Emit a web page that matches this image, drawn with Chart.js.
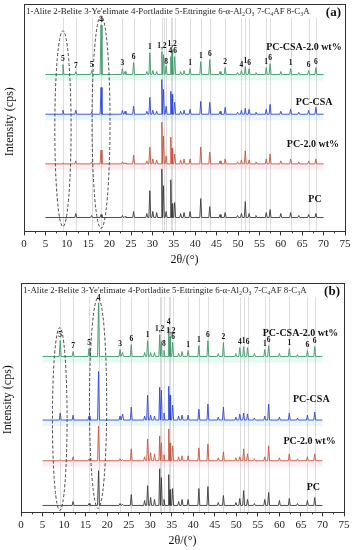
<!DOCTYPE html>
<html>
<head>
<meta charset="utf-8">
<script src="https://cdn.jsdelivr.net/npm/chart.js@4.4.1/dist/chart.umd.min.js"></script>
<style>
  html, body { margin: 0; padding: 0; background: #fff; }
  .panel { width: 354px; height: 275px; }
  canvas { display: block; }
</style>
</head>
<body>
<div class="panel"><canvas id="chartA" width="354" height="275"></canvas></div>
<div class="panel"><canvas id="chartB" width="354" height="275"></canvas></div>
<script>
// peak positions (2theta, deg) shared by all patterns
const peakPos = [9.1, 12.1, 15.8, 18.0, 23.0, 23.6, 25.6, 28.7, 29.4, 30.1, 31.0, 32.2, 32.6, 33.2, 34.3, 34.6, 35.2, 36.6, 37.4, 38.8,
                 41.3, 43.4, 45.8, 47.0, 49.9, 50.8, 51.7, 52.6, 54.2, 56.6, 57.5, 60.0, 62.3, 64.2, 66.5, 68.2];

// panel (a) peak intensities
const aCsa20 = [10, 3, 4, 50, 6, 3, 12, 3, 22, 4, 3, 23, 20, 9, 18, 25, 18, 3, 4, 6, 13, 15, 3, 7, 2, 4, 8, 6, 2, 7, 11, 3, 6, 2, 4, 7];
const aCsa   = [4, 4, 2, 27, 4, 3, 8, 3, 17, 4, 3, 35, 25, 8, 23, 20, 12, 3, 4, 5, 13, 12, 3, 7, 2, 4, 6, 5, 2, 5, 10, 3, 5, 2, 4, 7];
const aPc20  = [1, 3, 2, 14, 2, 1, 9, 3, 17, 5, 4, 42, 28, 8, 27, 16, 10, 4, 5, 5, 17, 12, 3, 5, 2, 4, 13, 4, 2, 5, 10, 3, 5, 2, 3, 5];
const aPc    = [0, 4, 2, 3, 2, 1, 6, 4, 27, 6, 5, 49, 32, 6, 38, 14, 15, 4, 5, 6, 19, 11, 3, 5, 2, 4, 16, 4, 2, 5, 8, 4, 5, 2, 3, 4];

// panel (b) peak intensities
const bCsa20 = [16, 5, 8, 54, 7, 4, 12, 4, 16, 4, 4, 22, 15, 6, 29, 20, 14, 3, 5, 6, 11, 16, 3, 14, 3, 9, 10, 9, 3, 7, 11, 3, 8, 2, 6, 10];
const bCsa   = [7, 5, 4, 49, 4, 6, 13, 4, 25, 5, 4, 33, 30, 7, 34, 25, 15, 4, 5, 5, 11, 16, 3, 13, 3, 6, 7, 6, 2, 4, 16, 3, 7, 2, 5, 8];
const bPc20  = [1, 4, 2, 35, 2, 1, 12, 4, 22, 8, 7, 25, 18, 6, 32, 18, 15, 4, 5, 5, 13, 17, 3, 9, 3, 4, 12, 7, 2, 4, 15, 3, 7, 2, 4, 7];
const bPc    = [0, 4, 2, 35, 2, 1, 11, 5, 20, 8, 6, 37, 28, 6, 31, 16, 17, 4, 6, 6, 17, 19, 3, 10, 3, 7, 15, 6, 2, 6, 13, 5, 7, 2, 5, 8];

const seriesNames = ['PC-CSA-2.0 wt%', 'PC-CSA', 'PC-2.0 wt%', 'PC'];
const xTickValues = [0, 5, 10, 15, 20, 25, 30, 35, 40, 45, 50, 55, 60, 65, 70, 75];
const refLines = [9.1, 12.1, 15.8, 18.0, 23.0, 25.6, 29.4, 32.2, 32.6, 33.2, 34.3, 34.6, 35.2, 38.8, 41.3, 43.4,
                  47.0, 50.8, 51.7, 52.6, 56.6, 57.5, 62.3, 66.5, 68.2];
const phaseKey = "1-Alite 2-Belite 3-Ye'elimate 4-Portladite 5-Ettringite 6-\u03b1-Al\u2082O\u2083 7-C\u2084AF 8-C\u2083A";

// phase numbers over the top pattern
const peakLabelsA = [[9.1, '5'], [12.1, '7'], [15.8, '5'], [18.0, '4'], [23.0, '3'], [25.6, '6'], [29.4, '1'], [32.2, '1,2'],
                     [33.2, '8'], [34.2, '4'], [34.6, '1,2'], [35.3, '6'], [38.8, '1'], [41.3, '1'], [43.4, '6'], [47.0, '2'],
                     [50.8, '4'], [51.7, '1'], [52.6, '6'], [56.6, '1'], [57.5, '6'], [62.3, '1'], [66.5, '6'], [68.2, '6']];
const peakLabelsB = [[9.1, '5'], [12.1, '7'], [15.8, '5'], [18.0, '4'], [23.0, '3'], [25.6, '6'], [29.4, '1'], [32.2, '1,2'],
                     [33.2, '8'], [34.3, '4'], [34.8, '1,2'], [35.3, '6'], [38.8, '1'], [41.3, '1'], [43.4, '6'], [47.0, '2'],
                     [50.8, '4'], [51.7, '1'], [52.6, '6'], [56.6, '1'], [57.5, '6'], [62.3, '1'], [66.5, '6'], [68.2, '6']];

const SERIF = "'Liberation Serif', 'DejaVu Serif', serif";
const colors = ['#3f9a6c', '#2f47d6', '#c4573f', '#3a3a3a'];
const bands  = ['rgba(120,220,170,0.16)', 'rgba(120,200,255,0.16)', 'rgba(255,150,170,0.16)', 'rgba(160,160,160,0.06)'];

function trace(heights, base) {
  const pts = [{ x: 5, y: base }];
  peakPos.forEach((p, i) => {
    const prev = i > 0 ? p - peakPos[i - 1] : 1;
    const next = i < peakPos.length - 1 ? peakPos[i + 1] - p : 1;
    const w = Math.min(0.22, 0.45 * prev, 0.45 * next);
    pts.push({ x: p - w, y: base }, { x: p, y: base + heights[i] }, { x: p + w, y: base });
  });
  pts.push({ x: 70, y: base });
  return pts;
}

function topAt(heights, deg) {
  let best = 0;
  peakPos.forEach((p, i) => { if (Math.abs(p - deg) <= 0.2) best = Math.max(best, heights[i]); });
  return best;
}

const decor = {
  id: 'decor',
  beforeDatasetsDraw(chart, args, o) {
    const { ctx, chartArea: a, scales: { x } } = chart;
    ctx.save();
    ctx.strokeStyle = '#d4d4d4';
    ctx.lineWidth = 0.8;
    refLines.forEach(v => {
      const px = Math.round(x.getPixelForValue(v)) + 0.5;
      ctx.beginPath(); ctx.moveTo(px, a.top + 14); ctx.lineTo(px, a.bottom); ctx.stroke();
    });
    ctx.restore();
  },
  afterDatasetsDraw(chart, args, o) {
    const { ctx, chartArea: a, scales: { x, y } } = chart;
    ctx.save();
    // dashed loops round the ettringite and portlandite peaks
    ctx.strokeStyle = '#333';
    ctx.lineWidth = 0.9;
    ctx.setLineDash([3, 2]);
    o.loops.forEach(l => {
      const cx = x.getPixelForValue(l.c), rx = x.getPixelForValue(l.c + l.hw) - cx;
      const t = y.getPixelForValue(l.top), b = y.getPixelForValue(l.bottom);
      ctx.beginPath(); ctx.ellipse(cx, (t + b) / 2, rx, (b - t) / 2, 0, 0, Math.PI * 2); ctx.stroke();
    });
    ctx.setLineDash([]);

    // phase numbers
    ctx.fillStyle = '#111';
    ctx.font = 'bold 7.5px ' + SERIF;
    ctx.textAlign = 'center';
    ctx.textBaseline = 'bottom';
    const base = o.offsets[0], hts = o.top;
    o.labels.forEach(([deg, txt]) => {
      const h = txt === '8' ? 9 : topAt(hts, deg) + 1.5;
      ctx.fillText(txt, x.getPixelForValue(deg), y.getPixelForValue(base + h));
    });

    // series names
    ctx.font = 'bold 10px ' + SERIF;
    ctx.textBaseline = 'middle';
    seriesNames.forEach((n, i) => {
      const [deg, dy] = o.names[i];
      ctx.fillText(n, x.getPixelForValue(deg), y.getPixelForValue(o.offsets[i] + dy));
    });

    // phase key + panel letter
    ctx.font = '8.9px ' + SERIF;
    ctx.textAlign = 'left';
    ctx.fillStyle = '#222';
    ctx.fillText(phaseKey, a.left + 2, a.top + 8);
    ctx.font = 'bold 13px ' + SERIF;
    ctx.textAlign = 'right';
    ctx.fillStyle = '#111';
    ctx.fillText(o.letter, a.right - 4, a.top + 9);

    // y title
    ctx.save();
    ctx.translate(o.yTitleX, (a.top + a.bottom) / 2 + o.yTitleDy);
    ctx.rotate(-Math.PI / 2);
    ctx.textAlign = 'center';
    ctx.font = '12px ' + SERIF;
    ctx.fillStyle = '#111';
    ctx.fillText('Intensity (cps)', 0, 0);
    ctx.restore();

    // frame and minor ticks
    ctx.strokeStyle = '#333';
    ctx.lineWidth = 1;
    ctx.strokeRect(Math.round(a.left) + 0.5, Math.round(a.top) + 0.5, Math.round(a.right - a.left), Math.round(a.bottom - a.top));
    for (let v = 2.5; v < 75; v += 5) {
      const px = Math.round(x.getPixelForValue(v)) + 0.5;
      ctx.beginPath(); ctx.moveTo(px, a.bottom); ctx.lineTo(px, a.bottom + 2); ctx.stroke();
    }
    ctx.restore();
  }
};

function makeChart(id, series, opt) {
  return new Chart(document.getElementById(id), {
    type: 'line',
    data: {
      datasets: series.map((s, i) => ({
        label: seriesNames[i],
        data: trace(s, opt.offsets[i]),
        borderColor: colors[i],
        borderWidth: 0.9,
        pointRadius: 0,
        tension: 0,
        fill: { value: opt.offsets[i] - 6 },
        backgroundColor: bands[i]
      }))
    },
    options: {
      responsive: false,
      animation: false,
      layout: { padding: opt.padding },
      scales: {
        x: {
          type: 'linear', min: 0, max: 75,
          afterBuildTicks: s => { s.ticks = xTickValues.map(v => ({ value: v })); },
          ticks: { font: { family: SERIF, size: 11 }, color: '#222', padding: 2, maxRotation: 0, autoSkip: false },
          grid: { drawOnChartArea: false, color: '#333', tickLength: 4 },
          border: { color: '#333', width: 1 },
          title: { display: true, text: '2\u03b8/(\u00b0)', font: { family: SERIF, size: 12 }, color: '#111', padding: 0 }
        },
        y: { display: false, min: 0, max: opt.ymax }
      },
      plugins: {
        legend: { display: false },
        tooltip: { enabled: false },
        decor: {
          offsets: opt.offsets, top: series[0], labels: opt.labels, names: opt.names, loops: opt.loops,
          letter: opt.letter, yTitleX: opt.yTitleX, yTitleDy: opt.yTitleDy
        }
      }
    },
    plugins: [decor]
  });
}

makeChart('chartA', [aCsa20, aCsa, aPc20, aPc], {
  offsets: [158, 118, 68, 14], ymax: 229,
  padding: { left: 24, right: 9, top: 4, bottom: 8 },
  labels: peakLabelsA,
  names: [[65.4, 27], [67.8, 12], [67.5, 20], [68.0, 18]],
  loops: [{ c: 9.1, hw: 1.9, top: 202, bottom: 5 }, { c: 18.0, hw: 2.1, top: 217, bottom: 3 }],
  letter: '(a)', yTitleX: 10, yTitleDy: 4
});

makeChart('chartB', [bCsa20, bCsa, bPc20, bPc], {
  offsets: [157, 93, 52, 7], ymax: 231,
  padding: { left: 21, right: 10, top: 8, bottom: 2 },
  labels: peakLabelsB,
  names: [[64.9, 23], [67.4, 21], [67.0, 19], [67.9, 18]],
  loops: [{ c: 9.0, hw: 1.7, top: 186, bottom: 2 }, { c: 17.9, hw: 2.0, top: 216, bottom: 4 }],
  letter: '(b)', yTitleX: 8, yTitleDy: 2
});
</script>
</body>
</html>
